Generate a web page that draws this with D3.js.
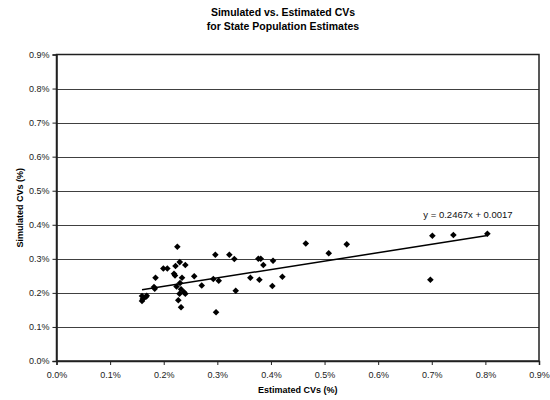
<!DOCTYPE html>
<html>
<head>
<meta charset="utf-8">
<script src="https://cdn.jsdelivr.net/npm/d3@7"></script>
<style>
  html, body { margin: 0; padding: 0; background: #fff; }
  svg { display: block; font-family: "Liberation Sans", Arial, sans-serif; }
</style>
</head>
<body>
<svg id="chart" width="550" height="400"></svg>
<script>
// Estimated CV (%) for each state
const estimatedCV = [
  0.2254, 0.2299, 0.2220, 0.2403, 0.1993, 0.2067, 0.2192, 0.2211, 0.2341, 0.2569,
  0.1847, 0.2304, 0.2239, 0.1819, 0.1832, 0.2323, 0.2709, 0.2295, 0.2379, 0.2403,
  0.2272, 0.2323, 0.1595, 0.1608, 0.1595, 0.1632, 0.1670, 0.1683, 0.2976, 0.2963,
  0.3224, 0.3317, 0.3765, 0.3810, 0.3858, 0.4039, 0.2925, 0.3026, 0.3616, 0.3784,
  0.4213, 0.3343, 0.4026, 0.5078, 0.5414, 0.7011, 0.7403, 0.8037, 0.6974, 0.4650
];
// Simulated CV (%) for the same states
const simulatedCV = [
  0.3356, 0.2904, 0.2789, 0.2818, 0.2716, 0.2716, 0.2563, 0.2510, 0.2446, 0.2490,
  0.2443, 0.2290, 0.2187, 0.2173, 0.2123, 0.2105, 0.2217, 0.1973, 0.2017, 0.1976,
  0.1782, 0.1580, 0.1908, 0.1820, 0.1762, 0.1858, 0.1888, 0.1917, 0.1430, 0.3121,
  0.3121, 0.2995, 0.3004, 0.3004, 0.2819, 0.2945, 0.2407, 0.2357, 0.2446, 0.2387,
  0.2475, 0.2064, 0.2202, 0.3162, 0.3426, 0.3679, 0.3699, 0.3738, 0.2387, 0.3450
];
// Linear trend line (values in %): y = 0.2467x + 0.0017 in fraction terms
const trendSlope = 0.2467;
const trendIntercept = 0.17;
const trendLabel = ["y = 0.2467x + 0.0017"];

const xTicks = [0, 0.1, 0.2, 0.3, 0.4, 0.5, 0.6, 0.7, 0.8, 0.9];
const yTicks = [0, 0.1, 0.2, 0.3, 0.4, 0.5, 0.6, 0.7, 0.8, 0.9];
const titleLines = ["Simulated vs. Estimated CVs", "for State Population Estimates"];
const xTitle = "Estimated CVs (%)";
const yTitle = "Simulated CVs (%)";

const svg = d3.select("#chart");
const plot = { left: 56.5, right: 539, top: 54.5, bottom: 361 };

const x = d3.scaleLinear().domain([0, 0.9]).range([plot.left, plot.right]);
const y = d3.scaleLinear().domain([0, 0.9]).range([plot.bottom, plot.top]);
const fmt = d => d.toFixed(1) + "%";

// horizontal gridlines
svg.append("g")
  .selectAll("line")
  .data(yTicks.filter(d => d > 0 && d < 0.9))
  .join("line")
  .attr("x1", plot.left).attr("x2", plot.right)
  .attr("y1", d => Math.round(y(d)) + 0.5).attr("y2", d => Math.round(y(d)) + 0.5)
  .attr("stroke", "#404040").attr("stroke-width", 1);

// plot border
svg.append("rect")
  .attr("x", plot.left).attr("y", plot.top)
  .attr("width", plot.right - plot.left).attr("height", plot.bottom - plot.top)
  .attr("fill", "none").attr("stroke", "#202020").attr("stroke-width", 1.5);

// axes
const xAxis = d3.axisBottom(x).tickValues(xTicks).tickFormat(fmt).tickSize(4).tickPadding(7);
const yAxis = d3.axisLeft(y).tickValues(yTicks).tickFormat(fmt).tickSize(4).tickPadding(3);

const gx = svg.append("g").attr("transform", `translate(0,${plot.bottom})`).call(xAxis);
const gy = svg.append("g").attr("transform", `translate(${plot.left},0)`).call(yAxis);
[gx, gy].forEach(g => {
  g.select(".domain").attr("stroke", "#202020").attr("stroke-width", 1.5);
  g.selectAll(".tick line").attr("stroke", "#202020");
  g.selectAll(".tick text")
    .attr("fill", "#222")
    .style("font-size", "9px")
    .style("font-family", "'Liberation Sans', Arial, sans-serif");
});

// trend line across the data range
const xExt = d3.extent(estimatedCV);
svg.append("line")
  .attr("x1", x(xExt[0])).attr("y1", y(trendSlope * xExt[0] + trendIntercept))
  .attr("x2", x(xExt[1])).attr("y2", y(trendSlope * xExt[1] + trendIntercept))
  .attr("stroke", "#000").attr("stroke-width", 1.5);

// data points as small diamonds
const pts = estimatedCV.map((v, i) => [v, simulatedCV[i]]);
svg.append("g")
  .selectAll("path")
  .data(pts)
  .join("path")
  .attr("transform", d => `translate(${x(d[0])},${y(d[1])})`)
  .attr("d", "M0,-3.3L3.3,0L0,3.3L-3.3,0Z")
  .attr("fill", "#000");

// trend equation
svg.append("text")
  .attr("x", 468).attr("y", 218)
  .attr("text-anchor", "middle")
  .style("font-size", "9.5px")
  .attr("fill", "#111")
  .text(trendLabel[0]);

// title
svg.append("text")
  .attr("x", 283).attr("y", 16)
  .attr("text-anchor", "middle")
  .style("font-size", "10.5px").style("font-weight", "bold")
  .selectAll("tspan")
  .data(titleLines)
  .join("tspan")
  .attr("x", 283)
  .attr("dy", (d, i) => i === 0 ? 0 : 14)
  .text(d => d);

// axis titles
svg.append("text")
  .attr("x", (plot.left + plot.right) / 2).attr("y", 393)
  .attr("text-anchor", "middle")
  .style("font-size", "9px").style("font-weight", "bold")
  .text(xTitle);

svg.append("text")
  .attr("transform", `translate(23,${(plot.top + plot.bottom) / 2}) rotate(-90)`)
  .attr("text-anchor", "middle")
  .style("font-size", "9px").style("font-weight", "bold")
  .text(yTitle);
</script>
</body>
</html>
